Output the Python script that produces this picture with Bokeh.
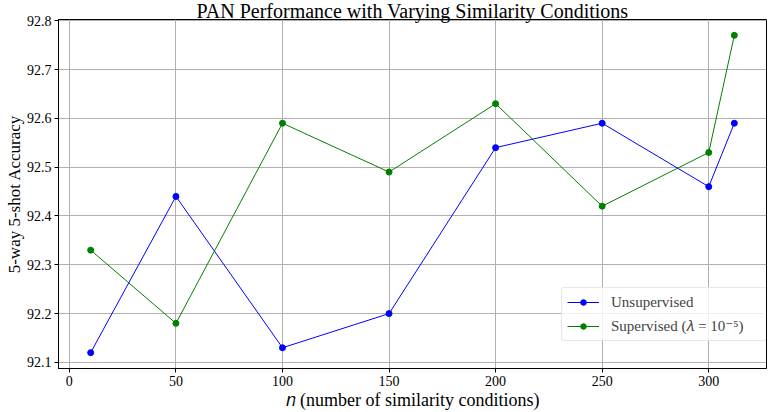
from bokeh.plotting import figure
from bokeh.models import Range1d, Legend, LegendItem, FixedTicker
from bokeh.embed import file_html
from bokeh.resources import INLINE

n_values = [10, 50, 100, 150, 200, 250, 300, 312]
unsupervised = [92.12, 92.44, 92.13, 92.20, 92.54, 92.59, 92.46, 92.59]
supervised = [92.33, 92.18, 92.59, 92.49, 92.63, 92.42, 92.53, 92.77]
x_ticks = [0, 50, 100, 150, 200, 250, 300]
y_ticks = [92.1, 92.2, 92.3, 92.4, 92.5, 92.6, 92.7, 92.8]

SERIF = "Liberation Serif, DejaVu Sans"

p = figure(width=770, height=412, output_backend="svg", toolbar_location=None,
           x_range=Range1d(-5.1, 327.1), y_range=Range1d(92.0875, 92.8025),
           min_border_left=58, min_border_right=4, min_border_top=19, min_border_bottom=43)

p.title.text = "PAN Performance with Varying Similarity Conditions"
p.title.text_font = SERIF
p.title.text_font_size = "20px"
p.title.text_font_style = "normal"
p.title.text_color = "black"
p.title.align = "center"
p.title.offset = 14
try:
    p.title.standoff = -5
except Exception:
    p.title.standoff = 0

p.outline_line_color = "black"
p.outline_line_width = 1
p.background_fill_color = "white"
p.border_fill_color = "white"

for ax in (p.xaxis[0], p.yaxis[0]):
    ax.axis_line_color = "black"
    ax.major_tick_line_color = "black"
    ax.major_tick_out = 4
    ax.major_tick_in = 0
    ax.minor_tick_line_color = None
    ax.major_label_text_font = SERIF
    ax.major_label_text_font_size = "14px"
    ax.major_label_text_color = "black"
    ax.axis_label_text_font = SERIF
    ax.axis_label_text_font_style = "normal"
    ax.axis_label_text_color = "black"

p.xaxis[0].ticker = FixedTicker(ticks=x_ticks)
p.yaxis[0].ticker = FixedTicker(ticks=y_ticks)
p.yaxis[0].axis_label = "5-way 5-shot Accuracy"
p.yaxis[0].axis_label_text_font_size = "17px"
p.yaxis[0].axis_label_standoff = 0
p.yaxis[0].major_label_standoff = 3
p.xaxis[0].major_label_standoff = 3
p.xaxis[0].axis_label = "\U0001D45B (number of similarity conditions)"
p.xaxis[0].axis_label_text_font_size = "18px"
p.xaxis[0].axis_label_standoff = 1

p.grid.grid_line_color = "#b0b0b0"
p.grid.grid_line_width = 1

l1 = p.line(n_values, unsupervised, line_color="#0000ff", line_width=1)
s1 = p.scatter(n_values, unsupervised, size=6, fill_color="#0000ff", line_color="#0000ff")
l2 = p.line(n_values, supervised, line_color="#008000", line_width=1)
s2 = p.scatter(n_values, supervised, size=6, fill_color="#008000", line_color="#008000")

legend = Legend(items=[
    LegendItem(label="Unsupervised", renderers=[l1, s1]),
    LegendItem(label="Supervised (\U0001D706 = 10\u207b\u2075)", renderers=[l2, s2]),
], location=(503, 27))
legend.label_text_font = SERIF
legend.label_text_font_size = "15px"
legend.border_line_color = "#d0d0d0"
legend.border_line_width = 1
legend.border_radius = 3
legend.background_fill_alpha = 0.8
legend.padding = 5
legend.spacing = 6
legend.glyph_width = 32
legend.glyph_height = 14
legend.label_height = 18
legend.label_width = 150
legend.label_standoff = 12
legend.margin = 0
p.add_layout(legend, "center")

open("out.html", "w").write(file_html(p, INLINE))
